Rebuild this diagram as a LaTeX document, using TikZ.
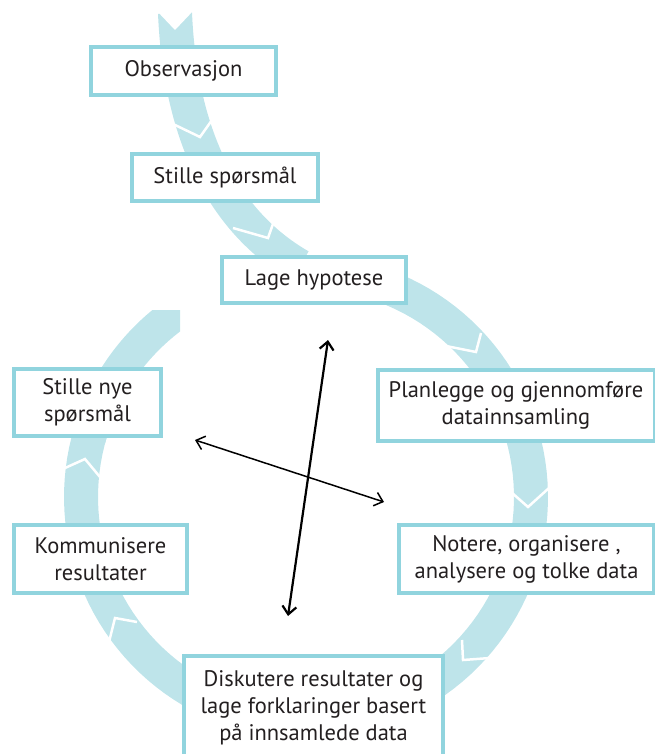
\documentclass[tikz,border=0pt]{standalone}
\usepackage{fontspec}
\setmainfont{PT Sans}
\usetikzlibrary{arrows.meta}
\definecolor{bandc}{RGB}{190,228,234}
\definecolor{boxc}{RGB}{145,212,222}
\definecolor{txt}{RGB}{35,31,32}
\begin{document}
\begin{tikzpicture}[x=1pt,y=-1pt,
  band/.style={line width=34pt, draw=bandc},
  chev/.style={draw=white, line width=2.5pt},
  stepbox/.style={draw=boxc, line width=4pt, fill=white, inner sep=0pt, text=txt,
    font=\fontsize{22.5}{27}\selectfont, align=center},
  dbl/.style={{Straight Barb[length=8pt,width=14pt]}-{Straight Barb[length=8pt,width=14pt]}, draw=black}]
\useasboundingbox (0,0) rectangle (655,754);

% descending band
\draw[band] (175,13) .. controls (180,130) and (220,220) .. (300,266);
\fill[white] (156,10) -- (175,30) -- (194,10) -- cycle;
% main circular band
\draw[band] plot[domain=260:562, samples=120] ({306+225*cos(\x)}, {497+225*sin(\x)});
\begin{scope}
  \clip (0,310) rectangle (180,754);
  \draw[band] plot[domain=555:615, samples=40] ({306+225*cos(\x)}, {497+225*sin(\x)});
\end{scope}

% chevrons
\draw[chev] (173,124) -- (200,137) -- (212,120);
\draw[chev] (233,228) -- (268,238) -- (274,221);
\draw[chev] (446,346) -- (476,352) -- (481,333);
\draw[chev] (511,492) -- (528,507) -- (549,488);
\draw[chev] (462,640) -- (463,660) -- (490,658);
\draw[chev] (109,642) -- (115,618) -- (137,622);
\draw[chev] (65,468) -- (85,459) -- (100,477);

% boxes
\node[stepbox, minimum width=185pt, minimum height=48pt] (obs) at (183.5,71) {Observasjon};
\node[stepbox, minimum width=186pt, minimum height=47pt] (sq) at (225,177.5) {Stille spørsmål};
\node[stepbox, minimum width=184pt, minimum height=46pt] (hyp) at (314,280) {Lage hypotese};
\node[stepbox, minimum width=277pt, minimum height=71pt] (plan) at (516,405.5) {Planlegge og gjennomføre\\datainnsamling};
\node[stepbox, minimum width=255pt, minimum height=68pt] (note) at (526.5,559) {Notere, organisere ,\\analysere og tolke data};
\node[stepbox, minimum width=259pt, minimum height=104pt] (disk) at (313.5,708) {Diskutere resultater og\\lage forklaringer basert\\på innsamlede data};
\node[stepbox, minimum width=147pt, minimum height=67pt] (nye) at (87.5,402.5) {Stille nye\\spørsmål};
\node[stepbox, minimum width=173pt, minimum height=68pt] (komm) at (100.5,559) {Kommunisere\\resultater};

% crossing arrows
\coordinate (vt) at (328,340);
\coordinate (vb) at (288,616);
\coordinate (hl) at (195,440);
\coordinate (hr) at (384,502);
\draw[dbl, line width=2.2pt] (vt) -- (vb);
\draw[dbl, line width=1.5pt] (hl) -- (hr);
\end{tikzpicture}
\end{document}
